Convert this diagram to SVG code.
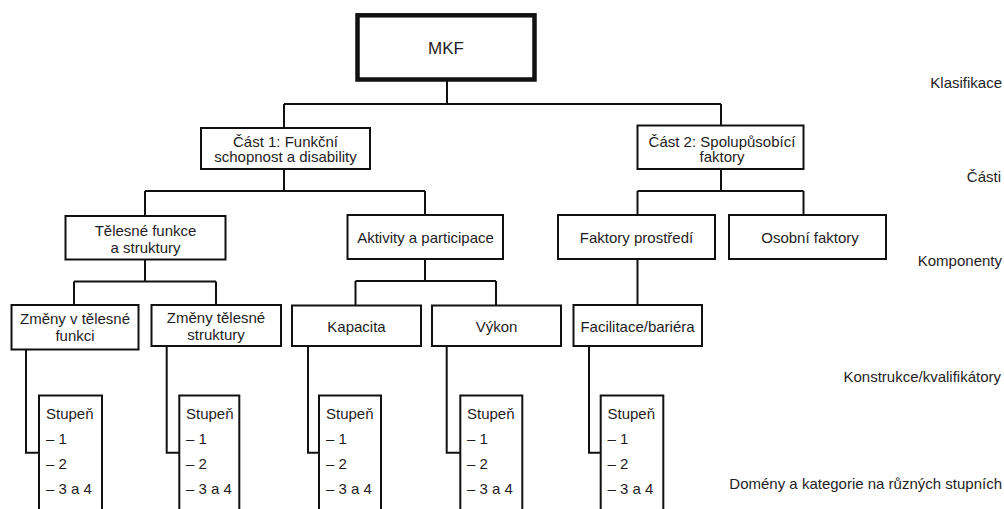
<svg xmlns="http://www.w3.org/2000/svg" width="1004" height="509" viewBox="0 0 1004 509">
<style>
.box{fill:#fff;stroke:#111;stroke-width:2}
.main{fill:#fff;stroke:#111;stroke-width:4.5}
.t{font-family:"Liberation Sans",Arial,sans-serif;font-size:15px;fill:#1f1d24}
.c{text-anchor:middle}
.r{text-anchor:end}
.con{fill:none;stroke:#111;stroke-width:2}
</style>
<rect width="1004" height="509" fill="#fff"/>
<g id="connectors" class="con">
<path d="M447 80V104M284 104H721M284 104V128M721 104V125.5"/>
<path d="M284 169V191M145 191H425M145 191V216M425 191V215"/>
<path d="M721 169V191M637.5 191H803.5M637.5 191V215M803.5 191V215"/>
<path d="M145 259.5V281.5M74 281.5H216M74 281.5V305M216 281.5V305"/>
<path d="M425 259V281M355.5 281H496M355.5 281V305.5M496 281V305.5"/>
<path d="M637.5 259V305"/>
<path d="M26 349.5V452.7H39"/>
<path d="M166.7 346V452.7H179.3"/>
<path d="M308 346V452.7H319"/>
<path d="M446.7 346V452.7H460.3"/>
<path d="M589 346V452.7H600.7"/>
</g>
<g id="mkf"><rect class="main" x="357.5" y="15.3" width="177" height="64.2"/><text class="t c" x="446" y="54" style="font-size:17px">MKF</text></g>
<g id="cast1"><rect class="box" x="201" y="128" width="169" height="41"/><text class="t c" x="285.5" y="146.5">Část 1: Funkční</text><text class="t c" x="285.5" y="162">schopnost a disability</text></g>
<g id="cast2"><rect class="box" x="637.5" y="125.5" width="166" height="43.5"/><text class="t c" x="722" y="146.5">Část 2: Spolupůsobící</text><text class="t c" x="722" y="162">faktory</text></g>
<g id="telesne"><rect class="box" x="65.5" y="216" width="160" height="43.5"/><text class="t c" x="145.5" y="236">Tělesné funkce</text><text class="t c" x="145.5" y="252.5">a struktury</text></g>
<g id="aktivity"><rect class="box" x="347.5" y="215" width="155.5" height="44"/><text class="t c" x="425.5" y="242.5">Aktivity a participace</text></g>
<g id="faktory"><rect class="box" x="558" y="215" width="157" height="44"/><text class="t c" x="636.5" y="242.5">Faktory prostředí</text></g>
<g id="osobni"><rect class="box" x="729" y="215" width="157" height="44"/><text class="t c" x="810" y="242.5">Osobní faktory</text></g>
<g id="zmeny1"><rect class="box" x="11.5" y="305" width="127" height="44.5"/><text class="t c" x="75" y="323.5">Změny v tělesné</text><text class="t c" x="75" y="341">funkci</text></g>
<g id="zmeny2"><rect class="box" x="151.5" y="305" width="129.5" height="41"/><text class="t c" x="216" y="322.5">Změny tělesné</text><text class="t c" x="216" y="339.5">struktury</text></g>
<g id="kapacita"><rect class="box" x="292" y="305.5" width="129" height="40.5"/><text class="t c" x="356.5" y="332">Kapacita</text></g>
<g id="vykon"><rect class="box" x="432" y="305.5" width="129" height="40.5"/><text class="t c" x="496.5" y="332">Výkon</text></g>
<g id="facilitace"><rect class="box" x="573.5" y="305" width="128.5" height="41"/><text class="t c" x="637.5" y="332">Facilitace/bariéra</text></g>
<g id="stupen1"><rect class="box" x="39" y="395.5" width="63" height="125"/><text class="t" x="46" y="419">Stupeň</text><text class="t" x="46" y="443.5">– 1</text><text class="t" x="46" y="468.5">– 2</text><text class="t" x="46" y="494">– 3 a 4</text></g>
<g id="stupen2"><rect class="box" x="179.3" y="395.5" width="60" height="125"/><text class="t" x="186" y="419">Stupeň</text><text class="t" x="186" y="443.5">– 1</text><text class="t" x="186" y="468.5">– 2</text><text class="t" x="186" y="494">– 3 a 4</text></g>
<g id="stupen3"><rect class="box" x="319" y="395.5" width="62" height="125"/><text class="t" x="326" y="419">Stupeň</text><text class="t" x="326" y="443.5">– 1</text><text class="t" x="326" y="468.5">– 2</text><text class="t" x="326" y="494">– 3 a 4</text></g>
<g id="stupen4"><rect class="box" x="460.3" y="395.5" width="62" height="125"/><text class="t" x="467" y="419">Stupeň</text><text class="t" x="467" y="443.5">– 1</text><text class="t" x="467" y="468.5">– 2</text><text class="t" x="467" y="494">– 3 a 4</text></g>
<g id="stupen5"><rect class="box" x="600.7" y="395.5" width="62.6" height="125"/><text class="t" x="607.5" y="419">Stupeň</text><text class="t" x="607.5" y="443.5">– 1</text><text class="t" x="607.5" y="468.5">– 2</text><text class="t" x="607.5" y="494">– 3 a 4</text></g>
<g id="levels">
<text class="t r" x="1002" y="88">Klasifikace</text>
<text class="t r" x="1001" y="182">Části</text>
<text class="t r" x="1002" y="266">Komponenty</text>
<text class="t r" x="1001" y="382">Konstrukce/kvalifikátory</text>
<text class="t r" x="1002" y="489">Domény a kategorie na různých stupních</text>
</g>
</svg>
